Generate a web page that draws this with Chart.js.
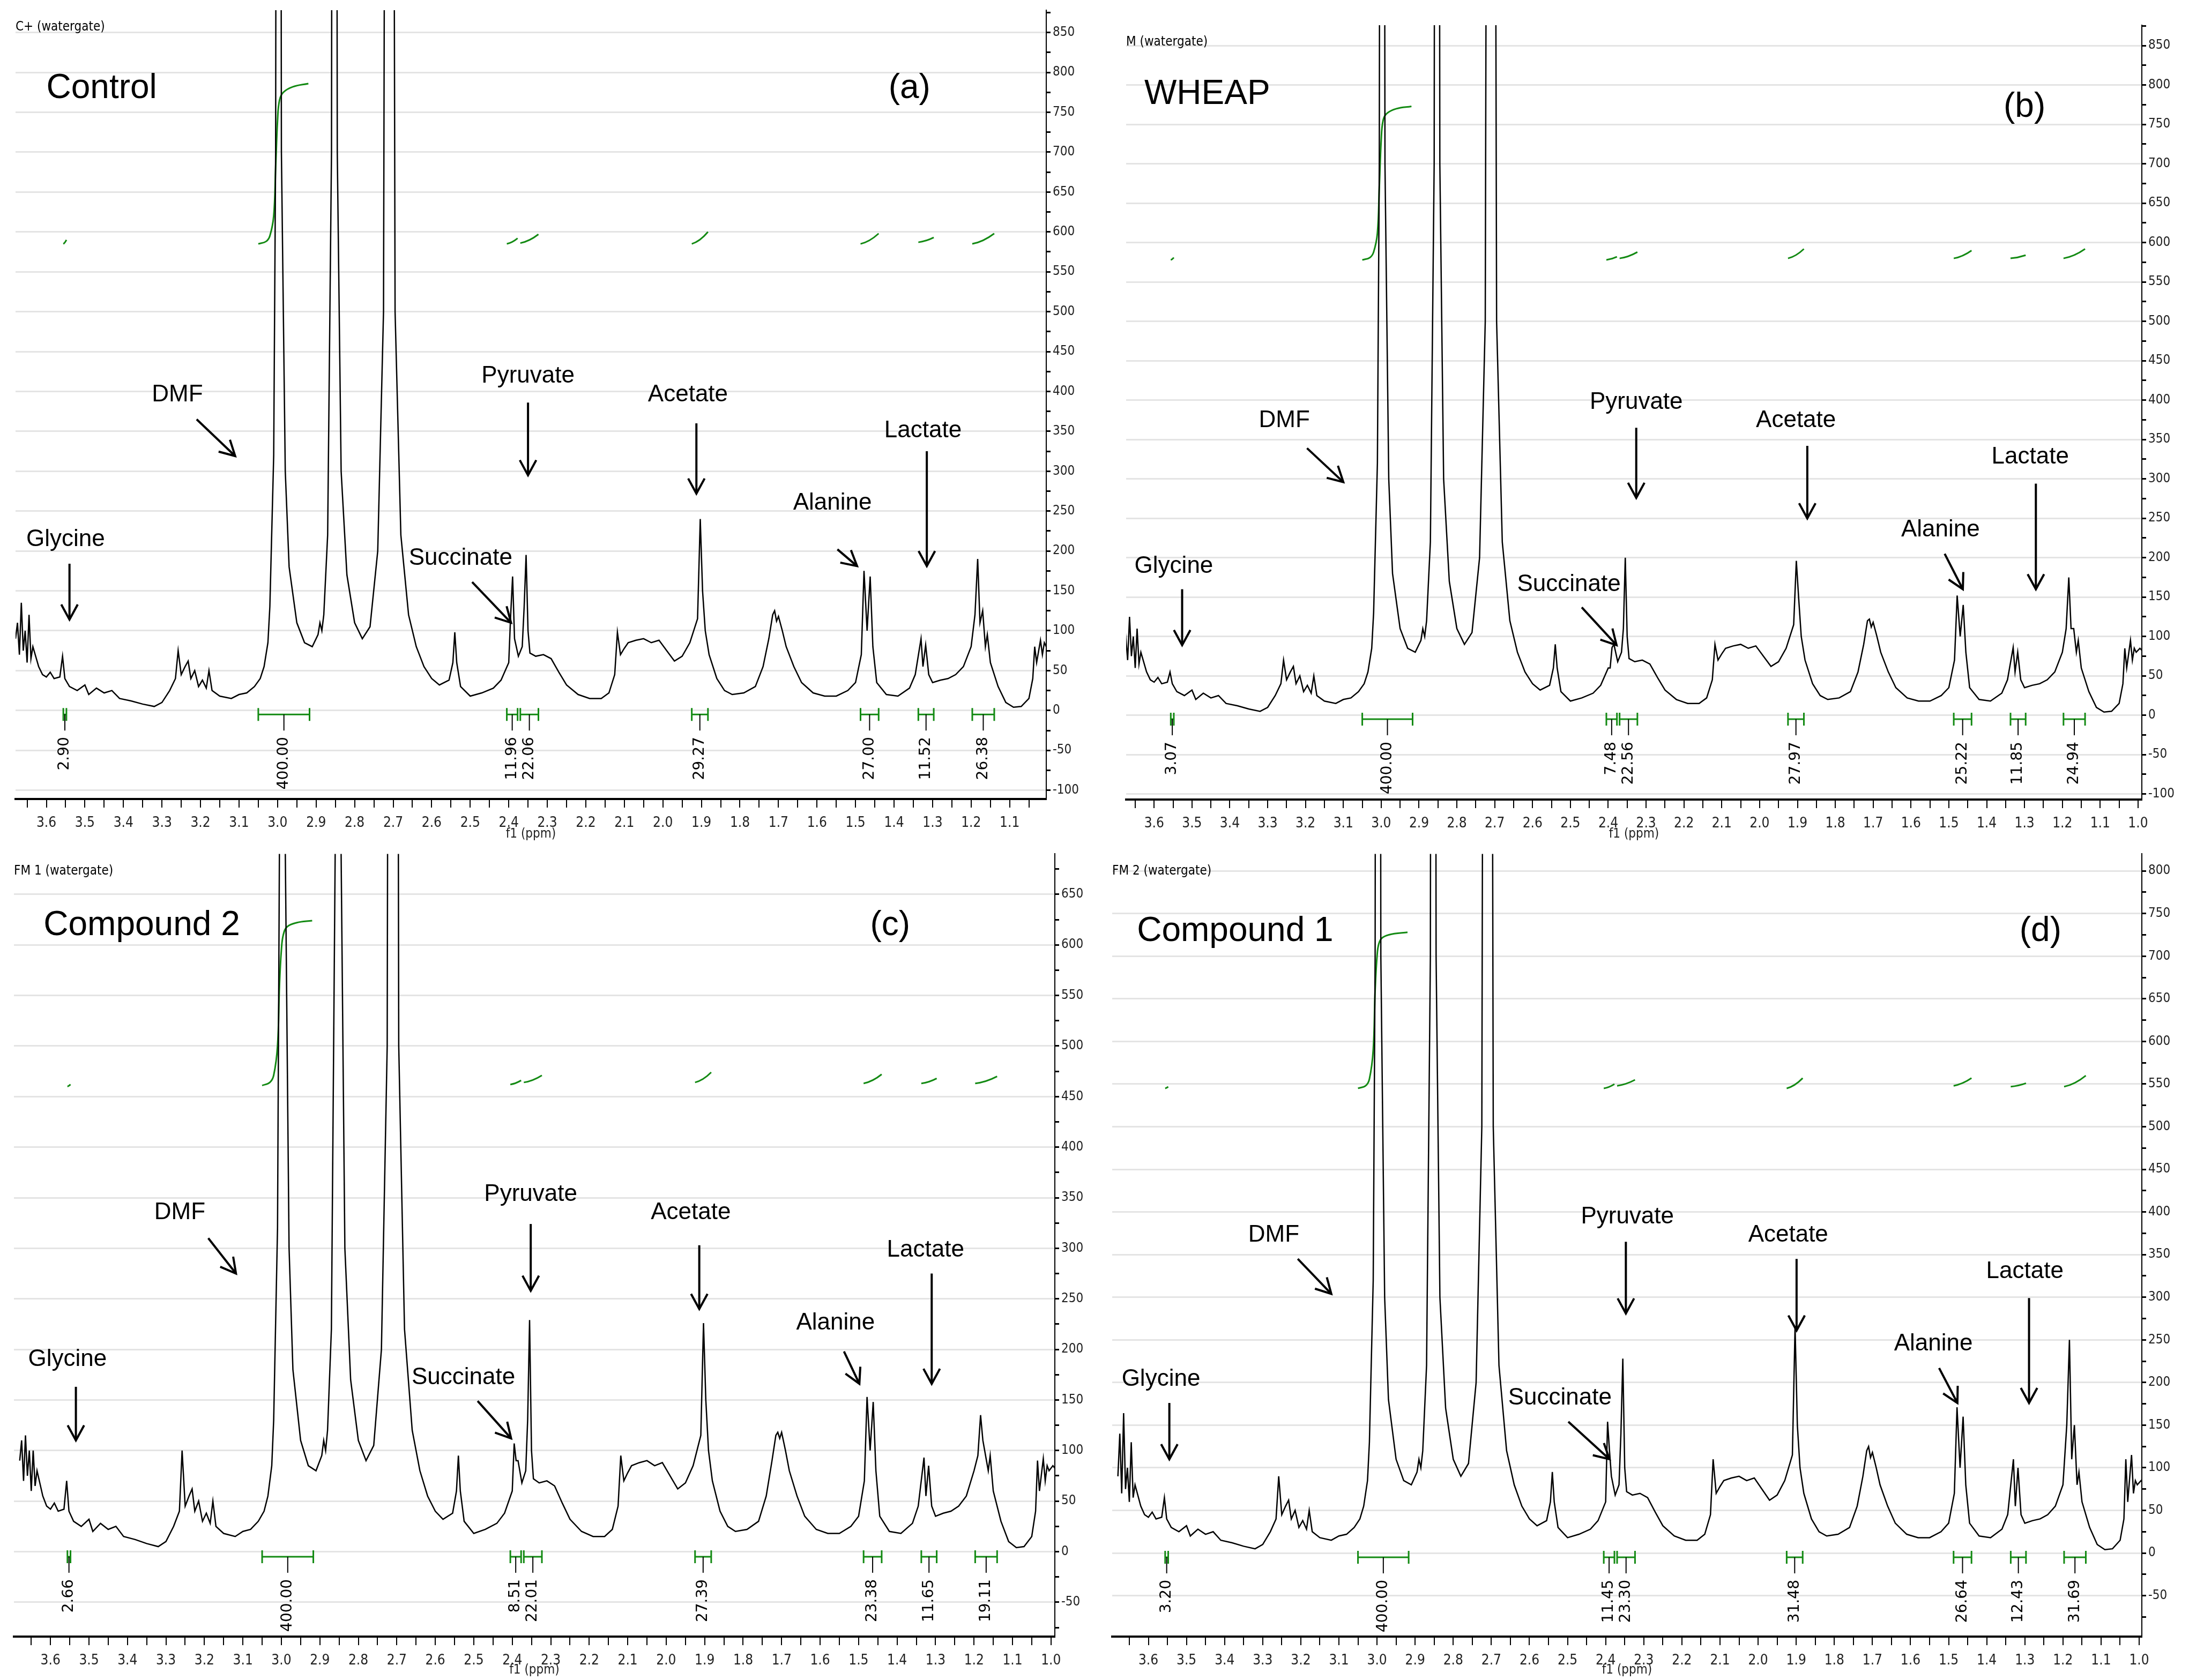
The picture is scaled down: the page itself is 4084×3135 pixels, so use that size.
<!DOCTYPE html>
<html><head><meta charset="utf-8">
<script src="https://cdn.jsdelivr.net/npm/chart.js@4/dist/chart.umd.min.js"></script>
<style>body{margin:0;background:#fff;width:4084px;height:3135px;position:relative;overflow:hidden}canvas{position:absolute}</style>
</head><body>
<script>
const baseSpectrum = [[3.68,90],[3.67,70],[3.66,75],[3.655,100],[3.65,60],[3.64,65],[3.635,80],[3.62,55],[3.61,45],[3.60,42],[3.59,48],[3.58,40],[3.565,42],[3.552,40],[3.54,30],[3.52,25],[3.50,32],[3.49,20],[3.47,28],[3.45,22],[3.43,25],[3.41,15],[3.38,12],[3.35,8],[3.32,5],[3.30,10],[3.28,25],[3.265,40],[3.25,45],[3.24,55],[3.232,62],[3.225,40],[3.215,50],[3.205,30],[3.195,38],[3.185,28],[3.178,50],[3.17,25],[3.15,18],[3.12,15],[3.10,20],[3.08,22],[3.06,30],[3.045,40],[3.035,55],[3.025,85],[3.02,130],[3.01,320],[3.005,700],[3.0,2500],[2.995,2500],[2.99,700],[2.98,300],[2.97,180],[2.95,110],[2.93,85],[2.91,80],[2.895,95],[2.89,110],[2.885,100],[2.88,120],[2.87,220],[2.86,700],[2.855,2500],[2.85,2500],[2.845,700],[2.835,300],[2.82,170],[2.80,110],[2.78,90],[2.76,105],[2.74,200],[2.725,500],[2.715,2500],[2.705,2500],[2.695,500],[2.68,220],[2.66,120],[2.64,80],[2.62,55],[2.60,40],[2.58,32],[2.555,38],[2.545,60],[2.535,60],[2.525,30],[2.50,18],[2.47,22],[2.44,28],[2.42,38],[2.40,60],[2.385,90],[2.375,68],[2.365,80],[2.35,100],[2.345,72],[2.33,68],[2.31,70],[2.29,65],[2.27,48],[2.25,32],[2.22,20],[2.19,15],[2.16,15],[2.14,22],[2.125,45],[2.11,70],[2.10,78],[2.09,85],[2.07,88],[2.05,90],[2.03,85],[2.01,88],[1.99,75],[1.97,62],[1.95,68],[1.93,85],[1.91,115],[1.897,150],[1.89,100],[1.88,70],[1.86,40],[1.84,25],[1.82,20],[1.79,22],[1.76,30],[1.74,55],[1.725,90],[1.705,112],[1.70,118],[1.69,100],[1.68,80],[1.66,55],[1.64,35],[1.61,22],[1.58,18],[1.55,18],[1.52,25],[1.50,35],[1.485,70],[1.47,100],[1.455,80],[1.445,35],[1.42,20],[1.39,18],[1.36,28],[1.345,45],[1.325,55],[1.31,45],[1.30,35],[1.28,38],[1.26,40],[1.24,45],[1.22,55],[1.20,80],[1.177,110],[1.163,80],[1.158,95],[1.15,60],[1.13,30],[1.11,10],[1.09,4],[1.07,5],[1.05,15],[1.04,40],[1.03,60],[1.015,70],[1.01,85],[1.005,80],[0.995,85],[0.985,80]];

const peaksA = [[3.675,110],[3.665,135],[3.645,120],[3.558,68],[3.258,75],[2.54,98],[2.395,120],[2.39,168],[2.36,130],[2.355,195],[2.118,98],[1.903,240],[1.715,120],[1.71,125],[1.478,175],[1.462,168],[1.33,90],[1.318,82],[1.19,120],[1.183,190],[1.17,125],[1.035,80],[1.02,88]];
const peaksB = [[3.675,100],[3.665,125],[3.645,110],[3.558,55],[3.258,70],[2.54,90],[2.395,60],[2.39,86],[2.36,110],[2.355,200],[2.118,90],[1.903,196],[1.715,120],[1.71,122],[1.478,152],[1.462,140],[1.33,86],[1.318,80],[1.19,110],[1.183,175],[1.17,110],[1.035,85],[1.02,95]];
const peaksC = [[3.675,110],[3.665,115],[3.645,100],[3.558,70],[3.258,100],[2.54,95],[2.395,107],[2.39,90],[2.36,130],[2.355,229],[2.118,95],[1.903,226],[1.715,115],[1.71,118],[1.478,153],[1.462,148],[1.33,93],[1.318,85],[1.19,95],[1.183,135],[1.17,95],[1.035,90],[1.02,92]];
const peaksD = [[3.675,140],[3.665,164],[3.645,130],[3.558,65],[3.258,90],[2.54,95],[2.395,154],[2.39,120],[2.36,140],[2.355,228],[2.118,110],[1.903,266],[1.715,120],[1.71,125],[1.478,171],[1.462,160],[1.33,110],[1.318,100],[1.19,150],[1.183,250],[1.17,150],[1.035,110],[1.02,115]];

const integralRanges = [[3.556,3.548],[3.05,2.917],[2.405,2.377],[2.370,2.323],[1.925,1.883],[1.487,1.44],[1.337,1.297],[1.197,1.14]];
const integralsA = ["2.90","400.00","11.96","22.06","29.27","27.00","11.52","26.38"];
const integralsB = ["3.07","400.00","7.48","22.56","27.97","25.22","11.85","24.94"];
const integralsC = ["2.66","400.00","8.51","22.01","27.39","23.38","11.65","19.11"];
const integralsD = ["3.20","400.00","11.45","23.30","31.48","26.64","12.43","31.69"];
const riseA = [[585,590],null,[585,592],[586,597],[585,600],[585,598],[587,593],[585,598]];
const riseB = [[578,581],null,[578,582],[580,588],[580,592],[580,590],[580,584],[580,592]];
const riseC = [[460,462],null,[462,466],[464,471],[464,474],[463,472],[463,468],[463,470]];
const riseD = [[545,547],null,[545,550],[548,555],[545,557],[548,557],[547,551],[547,560]];
const dmfCurveA = [[3.05,585],[3.03,588],[3.02,595],[3.01,620],[3.005,680],[3.0,740],[2.995,765],[2.985,775],[2.96,782],[2.92,786]];
const dmfCurveB = [[3.05,578],[3.03,581],[3.02,588],[3.01,612],[3.005,670],[3.0,730],[2.995,755],[2.985,764],[2.96,770],[2.92,773]];
const dmfCurveC = [[3.05,461],[3.03,464],[3.02,471],[3.01,500],[3.005,560],[3.0,595],[2.995,610],[2.985,618],[2.96,622],[2.92,624]];
const dmfCurveD = [[3.05,545],[3.03,548],[3.02,556],[3.01,590],[3.005,660],[3.0,700],[2.995,715],[2.985,722],[2.96,726],[2.92,728]];

const labelsA = [["Glycine",3.55,214,[3.54,184],[3.54,114]],["DMF",3.26,396,[3.21,365],[3.11,319]],["Pyruvate",2.35,419,[2.35,386],[2.35,295]],["Acetate",1.935,396,[1.913,360],[1.913,272]],["Lactate",1.325,351,[1.315,325],[1.315,181]],["Alanine",1.56,260,[1.547,202],[1.496,181]],["Succinate",2.525,191,[2.495,161],[2.394,110]]];
const labelsB = [["Glycine",3.548,189,[3.526,160],[3.526,89]],["DMF",3.256,374,[3.196,339],[3.1,296]],["Pyruvate",2.326,397,[2.326,365],[2.326,276]],["Acetate",1.904,374,[1.874,342],[1.874,250]],["Lactate",1.285,328,[1.27,294],[1.27,160]],["Alanine",1.522,235,[1.511,205],[1.463,160]],["Succinate",2.504,166,[2.47,137],[2.378,89]]];
const labelsC = [["Glycine",3.556,190,[3.534,163],[3.534,110]],["DMF",3.264,335,[3.19,310],[3.118,275]],["Pyruvate",2.352,353,[2.352,324],[2.352,258]],["Acetate",1.936,335,[1.914,303],[1.914,240]],["Lactate",1.326,298,[1.31,275],[1.31,166]],["Alanine",1.56,226,[1.538,198],[1.498,166]],["Succinate",2.527,172,[2.49,149],[2.403,112]]];
const labelsD = [["Glycine",3.567,204,[3.545,176],[3.545,110]],["DMF",3.271,373,[3.208,345],[3.12,304]],["Pyruvate",2.343,394,[2.347,365],[2.347,281]],["Acetate",1.921,373,[1.899,345],[1.899,261]],["Lactate",1.3,330,[1.289,299],[1.289,176]],["Alanine",1.54,245,[1.525,217],[1.477,176]],["Succinate",2.52,182,[2.498,154],[2.39,110]]];

const panels = [
 {spec:peaksA, ints:integralsA, rise:riseA, dmf:dmfCurveA, labels:labelsA, name:"Control", tag:"(a)", tagPos:[1.36,780], namePos:[3.60,780], hdr:"C+ (watergate)", box:[0,0,2042,1575], plot:[29,19,1952,1491], x:[1.005,3.68], y:[-111,878]},
 {spec:peaksB, ints:integralsB, rise:riseB, dmf:dmfCurveB, labels:labelsB, name:"WHEAP", tag:"(b)", tagPos:[1.30,772], namePos:[3.626,788], hdr:"M (watergate)", box:[2042,0,2042,1575], plot:[59,47,1954,1492], x:[0.99,3.674], y:[-107,876]},
 {spec:peaksC, ints:integralsC, rise:riseC, dmf:dmfCurveC, labels:labelsC, name:"Compound 2", tag:"(c)", tagPos:[1.418,619], namePos:[3.618,619], hdr:"FM 1 (watergate)", box:[0,1575,2042,1560], plot:[26,5,1968,1479], x:[0.99,3.695], y:[-84,690]},
 {spec:peaksD, ints:integralsD, rise:riseD, dmf:dmfCurveD, labels:labelsD, name:"Compound 1", tag:"(d)", tagPos:[1.259,729], namePos:[3.63,729], hdr:"FM 2 (watergate)", box:[2042,1575,2042,1560], plot:[33,5,1954,1479], x:[0.993,3.695], y:[-98,820]}
];

const GREEN = '#138a13';
function arrow(ctx, x1,y1,x2,y2){
  ctx.beginPath();ctx.moveTo(x1,y1);ctx.lineTo(x2,y2);ctx.stroke();
  const a=Math.atan2(y2-y1,x2-x1), L=32, w=0.5;
  ctx.beginPath();ctx.moveTo(x2-L*Math.cos(a-w),y2-L*Math.sin(a-w));ctx.lineTo(x2,y2);
  ctx.lineTo(x2-L*Math.cos(a+w),y2-L*Math.sin(a+w));ctx.stroke();
}

panels.forEach((p)=>{
  const c=document.createElement('canvas');
  c.width=p.box[2];c.height=p.box[3];
  c.style.left=p.box[0]+'px';c.style.top=p.box[1]+'px';
  c.style.width=p.box[2]+'px';c.style.height=p.box[3]+'px';
  document.body.appendChild(c);
  const pts=baseSpectrum.concat(p.spec).sort((a,b)=>b[0]-a[0]).map(d=>({x:d[0],y:d[1]}));
  const deco={id:'deco',afterDatasetsDraw(ch){
    const ctx=ch.ctx,X=ch.scales.x,Y=ch.scales.y,ca=ch.chartArea;
    ctx.save();
    ctx.fillStyle='#000';ctx.font='24px "DejaVu Sans Condensed","DejaVu Sans"';ctx.textAlign='left';ctx.textBaseline='top';
    ctx.fillText(p.hdr,ca.left,ca.top+20);
    ctx.font='64px "Liberation Sans"';ctx.textBaseline='middle';
    ctx.fillText(p.name,X.getPixelForValue(p.namePos[0]),Y.getPixelForValue(p.namePos[1]));
    ctx.textAlign='center';
    ctx.fillText(p.tag,X.getPixelForValue(p.tagPos[0]),Y.getPixelForValue(p.tagPos[1]));
    ctx.font='44px "Liberation Sans"';ctx.lineWidth=4;ctx.strokeStyle='#000';
    p.labels.forEach(l=>{
      ctx.fillText(l[0],X.getPixelForValue(l[1]),Y.getPixelForValue(l[2]));
      arrow(ctx,X.getPixelForValue(l[3][0]),Y.getPixelForValue(l[3][1]),X.getPixelForValue(l[4][0]),Y.getPixelForValue(l[4][1]));
    });
    integralRanges.forEach((r,i)=>{
      const x1=X.getPixelForValue(r[0]),x2=X.getPixelForValue(r[1]),yb=Y.getPixelForValue(-5);
      ctx.strokeStyle=GREEN;ctx.lineWidth=3;
      ctx.beginPath();ctx.moveTo(x1,yb);ctx.lineTo(x2,yb);ctx.moveTo(x1,yb-12);ctx.lineTo(x1,yb+12);ctx.moveTo(x2,yb-12);ctx.lineTo(x2,yb+12);ctx.stroke();
      const xm=(x1+x2)/2;
      ctx.strokeStyle='#000';ctx.lineWidth=2;
      ctx.beginPath();ctx.moveTo(xm,yb);ctx.lineTo(xm,yb+30);ctx.stroke();
      ctx.save();ctx.translate(xm,yb+42);ctx.rotate(-Math.PI/2);
      ctx.font='28px "DejaVu Sans"';ctx.textAlign='right';ctx.textBaseline='middle';ctx.fillStyle='#000';
      ctx.fillText(p.ints[i],0,0);ctx.restore();
      const rs=p.rise[i];
      if(rs){ctx.strokeStyle=GREEN;ctx.lineWidth=3;ctx.beginPath();
        ctx.moveTo(x1,Y.getPixelForValue(rs[0]));
        ctx.quadraticCurveTo(xm,Y.getPixelForValue(rs[0]+(rs[1]-rs[0])*0.2),x2,Y.getPixelForValue(rs[1]));ctx.stroke();}
    });
    ctx.restore();
  }};
  new Chart(c,{type:'line',
    data:{datasets:[
      {data:pts,borderColor:'#000',borderWidth:2.5,pointRadius:0,tension:0},
      {data:p.dmf.map(d=>({x:d[0],y:d[1]})),borderColor:GREEN,borderWidth:3,pointRadius:0,tension:0.4}
    ]},
    options:{responsive:false,animation:false,devicePixelRatio:1,
      layout:{padding:{left:p.plot[0],top:p.plot[1],right:0,bottom:0}},
      plugins:{legend:{display:false},tooltip:{enabled:false}},
      scales:{
        x:{type:'linear',reverse:true,min:p.x[0],max:p.x[1],
          afterBuildTicks(s){const t=[];for(let k=20;k<=74;k++){const v=k/20;if(v>=p.x[0]&&v<=p.x[1])t.push({value:v});}s.ticks=t;},
          afterFit(s){s.height=p.box[3]-p.plot[3];},
          border:{color:'#000',width:4},
          grid:{drawOnChartArea:false,color:'#000',tickLength:16,lineWidth:2},
          ticks:{autoSkip:false,maxRotation:0,color:'#222',font:{family:'"DejaVu Sans Condensed","DejaVu Sans"',size:26},padding:14,
            callback(v){return Math.abs(v*10-Math.round(v*10))<1e-6?v.toFixed(1):'';}},
          title:{display:true,text:'f1 (ppm)',color:'#222',font:{family:'"DejaVu Sans Condensed","DejaVu Sans"',size:24},padding:{top:0}}},
        y:{type:'linear',position:'right',min:p.y[0],max:p.y[1],
          afterBuildTicks(s){const t=[];for(let v=-100;v<=900;v+=25){if(v>=p.y[0]&&v<=p.y[1])t.push({value:v});}s.ticks=t;},
          afterFit(s){s.width=p.box[2]-p.plot[2];},
          border:{color:'#000',width:2},
          grid:{color:(ctx)=>ctx.tick&&ctx.tick.value%50===0?'#e4e4e4':'rgba(0,0,0,0)',lineWidth:3,tickColor:'#000',tickLength:8,drawTicks:true},
          ticks:{autoSkip:false,color:'#222',font:{family:'"DejaVu Sans Condensed","DejaVu Sans"',size:24},padding:4,
            callback(v){return v%50===0?String(v):'';}}}
      }},
    plugins:[deco]});
});
</script>
</body></html>
